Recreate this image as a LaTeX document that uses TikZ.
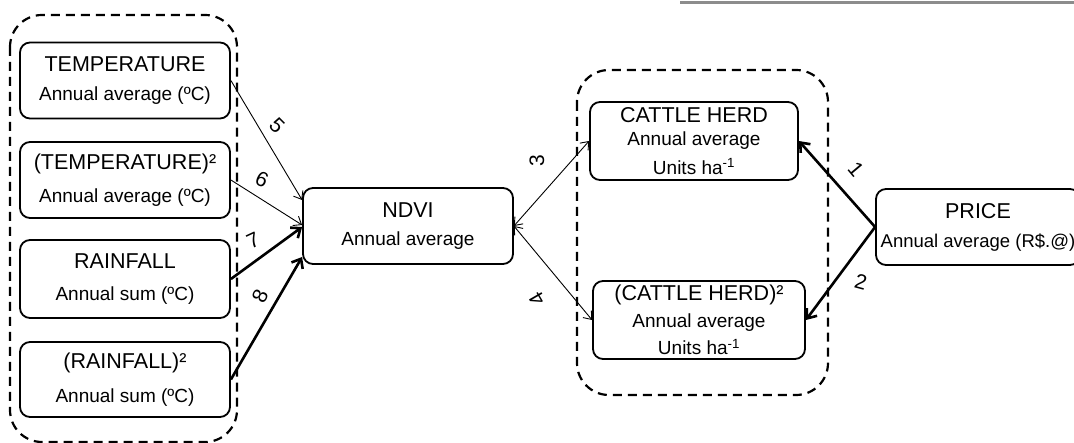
\documentclass[tikz,border=0pt]{standalone}
\usepackage{fontspec}
\setmainfont{Liberation Sans}
\usetikzlibrary{arrows.meta}
\newcommand\ttlfont{\fontsize{21.5}{24}\selectfont}
\newcommand\subfont{\fontsize{19}{20}\selectfont}
\begin{document}
\begin{tikzpicture}[x=1pt,y=-1pt,
  box/.style={draw, line width=1.8pt, rounded corners=10pt, align=center, inner sep=0pt,
              minimum width=210pt, minimum height=76pt},
  group/.style={draw, line width=2.2pt, dash pattern=on 9pt off 6pt, rounded corners=32pt},
  thinarrow/.style={line width=0.9pt, -{Straight Barb[length=7pt,width=11pt]}},
  thinboth/.style={line width=0.9pt, {Straight Barb[length=7pt,width=11pt]}-{Straight Barb[length=7pt,width=11pt]}},
  thickarrow/.style={line width=2.6pt, -{Straight Barb[length=8pt,width=13pt]}},
  num/.style={font=\fontsize{21}{21}\selectfont, inner sep=1pt}]
\useasboundingbox (0,0) rectangle (1074,443);
\clip (0,0) rectangle (1074,443);

% rule along the top edge
\draw[line width=3pt, black!45] (680,2.5) -- (1074,2.5);

% dashed groupings
\draw[group] (10,15) rectangle (237,442);
\draw[group] (577,70) rectangle (828,395);

% climate variables
\node[box] (temp)  at (125,80.5) {\ttlfont TEMPERATURE\\[14pt]\subfont Annual average (ºC)};
\node[box] (temp2) at (125,180)  {\ttlfont (TEMPERATURE)²\\[14pt]\subfont Annual average (ºC)};
\node[box, minimum height=78pt] (rain)  at (125,279)  {\ttlfont RAINFALL\\[17pt]\subfont Annual sum (ºC)};
\node[box, minimum height=75pt] (rain2) at (125,379.5) {\ttlfont (RAINFALL)²\\[15pt]\subfont Annual sum (ºC)};

% vegetation index
\node[box] (ndvi) at (408,226) {\ttlfont NDVI\\[14pt]\subfont Annual average};

% herd variables
\node[box, minimum width=208pt, minimum height=78pt] (cattle) at (694,141)
  {\ttlfont CATTLE HERD\\[8pt]\subfont Annual average\\[8pt]\subfont Units ha\textsuperscript{-1}};
\node[box, minimum width=212pt, minimum height=78pt] (cattle2) at (699,320)
  {\ttlfont (CATTLE HERD)²\\[7pt]\subfont Annual average\\[7pt]\subfont Units ha\textsuperscript{-1}};

% price
\node[box, minimum width=204pt] (price) at (978,227)
  {\ttlfont PRICE\\[14pt]\fontsize{18.5}{20}\selectfont Annual average (R\$.@)};

% paths into NDVI
\draw[thinarrow]  (temp.east)  -- ([yshift=26pt]ndvi.west);
\draw[thinarrow]  (temp2.east) -- ([yshift=1pt]ndvi.west);
\draw[thickarrow] (rain.east)  -- ([yshift=-1pt]ndvi.west);
\draw[thickarrow] (rain2.east) -- ([yshift=-31pt]ndvi.west);

% NDVI <-> herd
\draw[thinboth] (ndvi.east) -- (cattle.west);
\draw[thinboth] (ndvi.east) -- (cattle2.west);

% price -> herd
\draw[thickarrow] (price.west) -- (cattle.east);
\draw[thickarrow] (price.west) -- (cattle2.east);

% path numbers
\node[num, rotate=-45] (n5) at (277,126) {5};
\node[num, rotate=-25] (n6) at (262,179) {6};
\node[num, rotate=25]  (n7) at (253,240) {7};
\node[num, rotate=65]  (n8) at (260,296) {8};
\node[num, rotate=90]  (n3) at (537,161) {3};
\node[num, rotate=120] (n4) at (537,299) {4};
\node[num, rotate=-50] (n1) at (856,169) {1};
\node[num, rotate=-15] (n2) at (861,282) {2};
\end{tikzpicture}
\end{document}
